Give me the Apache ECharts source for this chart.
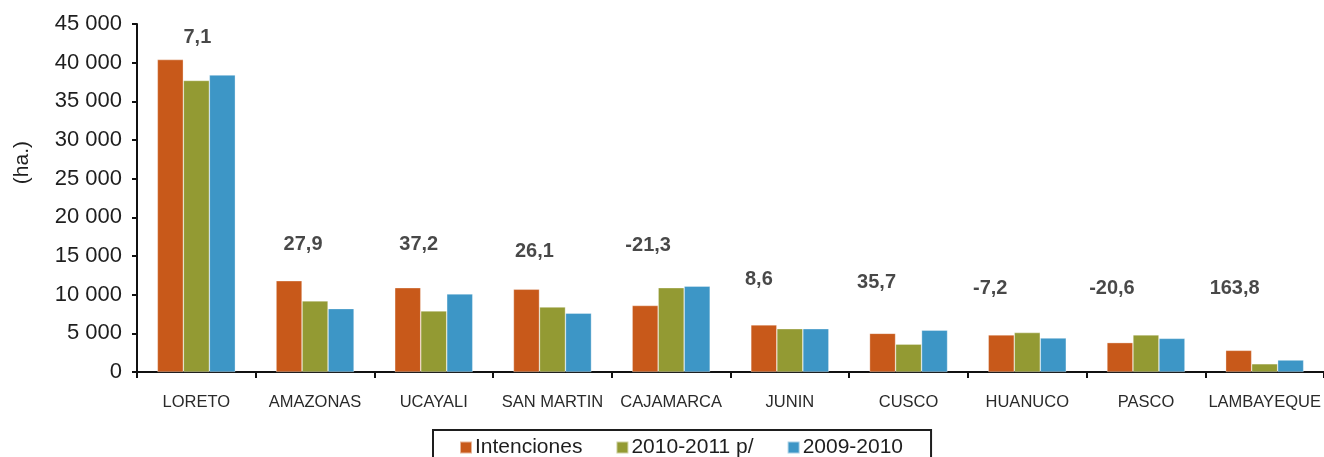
<!DOCTYPE html>
<html>
<head>
<meta charset="utf-8">
<script src="https://cdn.jsdelivr.net/npm/echarts@6/dist/echarts.min.js"></script>
<style>
  html, body { margin: 0; padding: 0; background: #fff; }
  #chart { width: 1324px; height: 457px; }
</style>
</head>
<body>
<div id="chart"></div>
<script>
  // datos
  const categories = ['LORETO', 'AMAZONAS', 'UCAYALI', 'SAN MARTIN', 'CAJAMARCA', 'JUNIN', 'CUSCO', 'HUANUCO', 'PASCO', 'LAMBAYEQUE'];
  const seriesNames = ['Intenciones', '2010-2011 p/', '2009-2010'];
  const intenciones = [40400, 11800, 10900, 10700, 8600, 6100, 5000, 4800, 3800, 2800];
  const campana1011 = [37700, 9200, 7900, 8400, 10900, 5600, 3600, 5100, 4800, 1060];
  const campana0910 = [38400, 8200, 10100, 7600, 11100, 5600, 5400, 4400, 4350, 1550];
  const variacion = ['7,1', '27,9', '37,2', '26,1', '-21,3', '8,6', '35,7', '-7,2', '-20,6', '163,8'];
  const yTicks = [0, 5000, 10000, 15000, 20000, 25000, 30000, 35000, 40000, 45000];

  // ubicacion de las etiquetas de variacion (altura en ha. y desplazamiento en px)
  const labelAt = [43300, 16550, 16550, 15600, 16300, 12000, 11550, 10800, 10800, 10800];
  const labelShift = [1, -12, -15, -18, -23, -31, -32, -37, -34, -30];

  const colors = ['#C8591A', '#939A33', '#3D96C6'];
  const values = [intenciones, campana1011, campana0910];

  const chart = echarts.init(document.getElementById('chart'));

  const barSeries = seriesNames.map((name, i) => ({
    name: name,
    type: 'bar',
    data: values[i],
    barWidth: 26,
    barGap: '0%',
    itemStyle: { color: colors[i], borderColor: 'rgba(255,255,255,0.55)', borderWidth: 0.6 },
  }));

  const option = {
    animation: false,
    grid: { left: 137, right: 0, top: 24, bottom: 85, containLabel: false },
    xAxis: {
      type: 'category',
      data: categories,
      boundaryGap: true,
      axisLine: { lineStyle: { color: '#111', width: 2 } },
      axisTick: { show: true, interval: 0, length: 6, lineStyle: { color: '#111', width: 2 } },
      axisLabel: {
        interval: 0,
        margin: 22,
        color: '#2a2a2a',
        fontFamily: 'Liberation Sans, Arial, sans-serif',
        fontSize: 16.5,
      },
    },
    yAxis: {
      type: 'value',
      min: yTicks[0],
      max: yTicks[yTicks.length - 1],
      interval: yTicks[1] - yTicks[0],
      splitLine: { show: false },
      axisLine: { show: true, lineStyle: { color: '#111', width: 2 } },
      axisTick: { show: true, length: 5, lineStyle: { color: '#111', width: 2 } },
      axisLabel: {
        margin: 15,
        color: '#1e1e1e',
        fontFamily: 'Liberation Sans, Arial, sans-serif',
        fontSize: 22,
        formatter: (v) => String(v).replace(/\B(?=(\d{3})+(?!\d))/g, ' '),
      },
    },
    legend: {
      data: seriesNames,
      left: 433,
      top: 430,
      orient: 'horizontal',
      icon: 'rect',
      itemWidth: 12,
      itemHeight: 12,
      itemGap: 33,
      padding: [7, 28, 12, 26],
      borderColor: '#1e1e1e',
      borderWidth: 2,
      textStyle: {
        color: '#1e1e1e',
        fontFamily: 'Liberation Sans, Arial, sans-serif',
        fontSize: 21,
        padding: [0, 0, 0, -2],
      },
    },
    graphic: [
      {
        type: 'text',
        left: 12,
        top: 141,
        rotation: Math.PI / 2,
        style: {
          text: '(ha.)',
          fill: '#1e1e1e',
          font: '21px "Liberation Sans", Arial, sans-serif',
        },
      },
    ],
    series: [
      ...barSeries,
      {
        name: 'variacion',
        type: 'scatter',
        symbolSize: 0,
        silent: true,
        data: labelAt.map((y, i) => ({
          value: [i, y],
          label: { offset: [labelShift[i], 0] },
        })),
        label: {
          show: true,
          position: 'inside',
          color: '#1a1a1a',
          fontWeight: 'bold',
          fontFamily: 'Liberation Sans, Arial, sans-serif',
          fontSize: 20,
          formatter: (p) => variacion[p.dataIndex],
        },
      },
    ],
  };

  option && chart.setOption(option);
</script>
</body>
</html>
